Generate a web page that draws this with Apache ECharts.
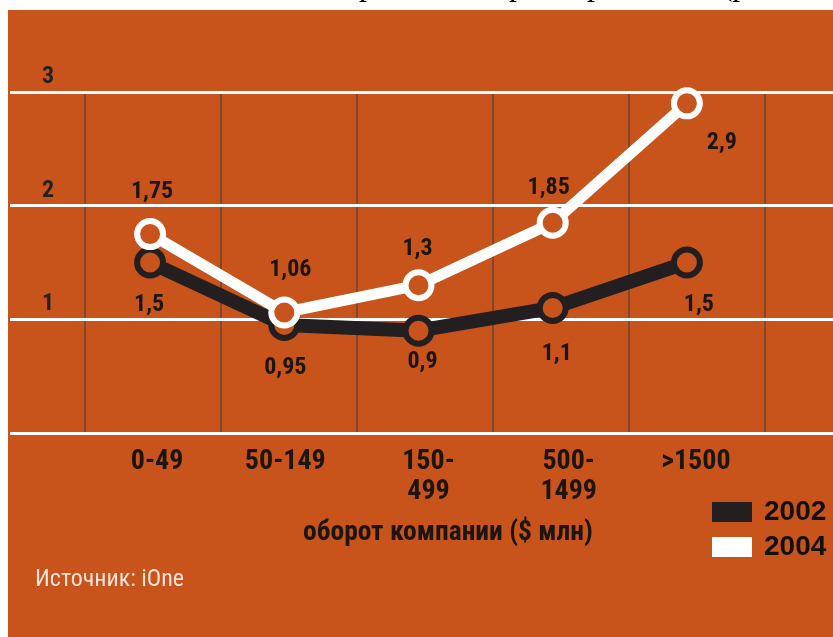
<!DOCTYPE html>
<html>
<head>
<meta charset="utf-8">
<script src="https://cdn.jsdelivr.net/npm/echarts@6/dist/echarts.min.js"></script>
<style>
  html, body { margin: 0; padding: 0; background: #ffffff; }
  #chart { width: 833px; height: 637px; }
</style>
</head>
<body>
<div id="chart"></div>
<script>
// Turnover bands and average values per year
const categories = ['0-49', '50-149', '150-\n499', '500-\n1499', '>1500'];
const values2002 = [1.5, 0.95, 0.9, 1.1, 1.5];
const values2004 = [1.75, 1.06, 1.3, 1.85, 2.9];
const yTicks = [0, 1, 2, 3];
const seriesNames = ['2002', '2004'];
const axisTitle = 'оборот компании ($ млн)';
const sourceNote = 'Источник: iOne';

// Label placement relative to each point (px)
const labelShift2002 = [[-1, 42], [1, 43], [4, 31], [4, 46], [12, 42]];
const labelShift2004 = [[2, -42], [6, -43], [-1, -36], [-4, -35], [35, 40]];
const categoryLabelPad = [14, 2, 20, 32, 18];

const ORANGE = '#c8541b';
const INK = '#1c1512';
const DARK = '#231f20';
const FAMILY = "Roboto, 'Open Sans', sans-serif";
const BOLD_NARROW = 'bold condensed';

const fmt = v => String(v).replace('.', ',');

const chart = echarts.init(document.getElementById('chart'), null, { renderer: 'canvas' });

// Clipped heading line peeking above the panel
const headingBits = [['р', 367], ['о', 413], ['р', 517], ['о', 563], ['р', 595], ['(р', 735]];

const graphic = headingBits.map(([t, x]) => ({
  type: 'text', x: x, y: -13, z: -20,
  style: { text: t, font: "32px 'Liberation Serif', 'DejaVu Serif', serif", fill: '#000', align: 'center', verticalAlign: 'middle' }
}));
graphic.push(
  { type: 'rect', shape: { x: 8, y: 10, width: 825, height: 627 }, style: { fill: ORANGE }, z: -10 },
  { type: 'text', x: 448, y: 533, z: 5,
    style: { text: axisTitle, font: 'bold condensed 27.5px ' + FAMILY, fill: INK, align: 'center', verticalAlign: 'middle' } },
  { type: 'text', x: 35, y: 580, z: 5,
    style: { text: sourceNote, font: 'condensed 24px ' + FAMILY, fill: '#f6e1d6', align: 'left', verticalAlign: 'middle' } }
);

const labelStyle = {
  show: true, position: 'inside', align: 'center', verticalAlign: 'middle',
  fontFamily: FAMILY, fontWeight: BOLD_NARROW, fontSize: 24, color: INK,
  formatter: p => fmt(p.value)
};

const option = {
  animation: false,
  backgroundColor: 'transparent',
  graphic: graphic,
  legend: {
    orient: 'vertical', left: 712, top: 498, padding: 0,
    itemWidth: 40, itemHeight: 20, itemGap: 7,
    selectedMode: false,
    textStyle: { fontFamily: "'Liberation Sans', Arial, sans-serif", fontWeight: 'bold', fontSize: 28, color: '#111', padding: [0, 0, 0, 7] },
    data: [
      { name: seriesNames[0], icon: 'rect', itemStyle: { color: DARK, borderWidth: 0 } },
      { name: seriesNames[1], icon: 'rect', itemStyle: { color: '#ffffff', borderWidth: 0 } }
    ]
  },
  grid: [
    { left: 10, right: 0, top: 92, bottom: 204 },   // horizontal rules
    { left: 85, right: 68, top: 92, bottom: 204 },  // column separators
    { left: 83, right: 79, top: 92, bottom: 204 }   // plotted data
  ],
  xAxis: [
    { gridIndex: 0, type: 'value', min: 0, max: 1, show: false },
    { gridIndex: 1, type: 'value', min: 0, max: categories.length, interval: 1, z: 0,
      axisLine: { show: false }, axisTick: { show: false }, axisLabel: { show: false },
      splitLine: { show: true, lineStyle: { color: '#6a4531', width: 1.5 } } },
    { gridIndex: 2, type: 'category', boundaryGap: true,
      data: categories.map((c, i) => ({ value: c, textStyle: { padding: [0, 0, 0, categoryLabelPad[i]] } })),
      axisLine: { show: false }, axisTick: { show: false }, splitLine: { show: false },
      axisLabel: { interval: 0, margin: 14, fontFamily: FAMILY, fontWeight: BOLD_NARROW, fontSize: 28, lineHeight: 30, color: INK, align: 'center' } }
  ],
  yAxis: [
    { gridIndex: 0, type: 'value', min: yTicks[0], max: yTicks[yTicks.length - 1], interval: 1, z: 1,
      axisLine: { show: false }, axisTick: { show: false },
      splitLine: { show: true, lineStyle: { color: '#ffffff', width: 3 } },
      axisLabel: { inside: true, margin: 38, align: 'center', verticalAlign: 'bottom', padding: [0, 0, 3, 0],
        fontFamily: FAMILY, fontWeight: BOLD_NARROW, fontSize: 24, color: '#222',
        formatter: v => (v === 0 ? '' : String(v)) } },
    { gridIndex: 1, type: 'value', min: 0, max: 3, show: false },
    { gridIndex: 2, type: 'value', min: 0, max: 3, show: false }
  ],
  series: [
    {
      name: seriesNames[0], type: 'line', xAxisIndex: 2, yAxisIndex: 2, z: 3,
      symbol: 'circle', symbolSize: 26,
      lineStyle: { color: DARK, width: 14 },
      itemStyle: { color: ORANGE, borderColor: DARK, borderWidth: 6 },
      label: labelStyle,
      emphasis: { disabled: true },
      data: values2002.map((v, i) => ({ value: v, label: { offset: labelShift2002[i] } }))
    },
    {
      name: seriesNames[1], type: 'line', xAxisIndex: 2, yAxisIndex: 2, z: 4,
      symbol: 'circle', symbolSize: 26,
      lineStyle: { color: '#ffffff', width: 11 },
      itemStyle: { color: ORANGE, borderColor: '#ffffff', borderWidth: 6 },
      label: labelStyle,
      emphasis: { disabled: true },
      data: values2004.map((v, i) => ({ value: v, label: { offset: labelShift2004[i] } }))
    }
  ]
};

chart.setOption(option);
</script>
</body>
</html>
